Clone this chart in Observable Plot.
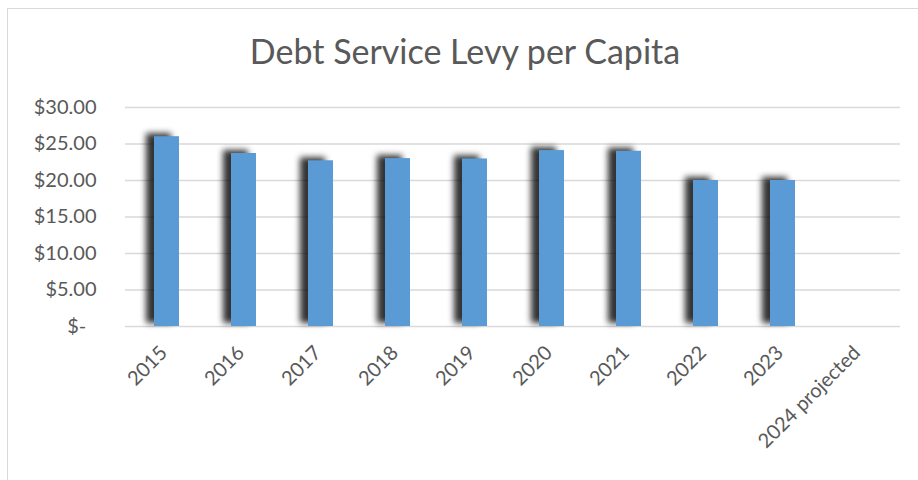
<!DOCTYPE html>
<html>
<head>
<meta charset="utf-8">
<script src="https://cdn.jsdelivr.net/npm/d3@7"></script>
<script src="https://cdn.jsdelivr.net/npm/@observablehq/plot@0.6"></script>
<style>
  html, body { margin: 0; padding: 0; background: #fff; }
  #wrap { position: relative; width: 918px; height: 480px; overflow: hidden; background: #fff; }
  #frame { position: absolute; left: 7px; top: 8px; width: 1000px; height: 1000px;
           border-left: 1.5px solid #d9d9d9; border-top: 1.5px solid #d9d9d9; }
  #title { position: absolute; left: 0; top: 34px; width: 930px; text-align: center;
           font-family: Lato, "Open Sans", sans-serif; font-size: 34px; line-height: 34px; color: #595959; }
  #chart { position: absolute; left: 0; top: 85px; }
  g[aria-label="bar"] { filter: drop-shadow(-8px -3px 3px rgba(0,0,0,0.8)); }
</style>
</head>
<body>
<div id="wrap">
  <div id="frame"></div>
  <div id="title">Debt Service Levy per Capita</div>
  <div id="chart"></div>
</div>
<script>
const years = ["2015","2016","2017","2018","2019","2020","2021","2022","2023","2024 projected"];
const levy = [26.0, 23.7, 22.7, 23.0, 22.95, 24.1, 24.0, 20.0, 20.0, null];
const yTicks = [0, 5, 10, 15, 20, 25, 30];

const data = years.map((year, i) => ({year, value: levy[i]}));
const fmt = d => d === 0 ? "$-\u00a0\u00a0" : "$" + d.toFixed(2);

const chart = Plot.plot({
  width: 918,
  height: 395,
  marginTop: 22,
  marginBottom: 154,
  marginLeft: 125,
  marginRight: 18,
  style: { fontFamily: "Lato, 'Open Sans', sans-serif", fontSize: "20px", color: "#595959", background: "transparent" },
  x: { domain: years, paddingInner: 0.68, paddingOuter: 0.34, label: null },
  y: { domain: [0, 30], label: null },
  marks: [
    Plot.ruleY(yTicks, { stroke: "#d9d9d9", strokeWidth: 1.5 }),
    Plot.barY(data.filter(d => d.value != null), { x: "year", y: "value", fill: "#5b9bd5" }),
    Plot.axisY({ ticks: yTicks, tickFormat: fmt, tickSize: 0, tickPadding: 29, label: null }),
    Plot.axisX({ tickRotate: -45, tickSize: 0, tickPadding: 23, dx: -3, label: null })
  ]
});
document.getElementById("chart").appendChild(chart);
</script>
</body>
</html>
